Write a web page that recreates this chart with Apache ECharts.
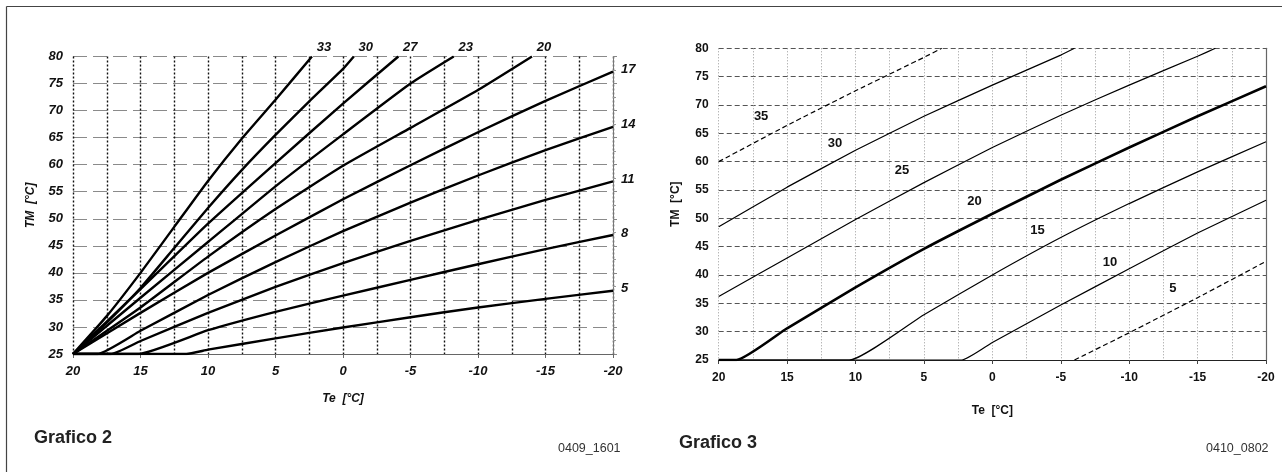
<!DOCTYPE html>
<html>
<head>
<meta charset="utf-8">
<script src="https://cdn.jsdelivr.net/npm/echarts@6/dist/echarts.min.js"></script>
<style>
  html, body { margin: 0; background: #fff; }
  #chart { width: 1282px; height: 472px; }
</style>
</head>
<body>
<div id="chart"></div>
<script>
// Grafico 2 : curve [Te, TM]
const g2c33 = [[20, 25], [17.5, 32], [15, 40], [12.5, 48.5], [10, 57], [7.5, 64.8], [5, 72], [2.3, 80]];
const g2c30 = [[20, 25], [17.5, 30.8], [15, 37.2], [12.5, 44.6], [10, 52], [7.5, 59], [5, 65.5], [2.5, 71.7], [0, 77.7], [-0.8, 80]];
const g2c27 = [[20, 25], [15, 37], [10, 49.1], [5, 60.3], [0, 71.3], [-4.1, 80]];
const g2c23 = [[20, 25], [15, 35.4], [10, 45.7], [5, 56], [0, 65.6], [-5, 75], [-8.2, 80]];
const g2c20 = [[20, 25], [15, 33.6], [10, 43], [5, 51.8], [0, 59.8], [-5, 66.8], [-10, 73.8], [-14, 80]];
const g2c17 = [[20, 25], [15, 32.6], [10, 40], [5, 46.9], [0, 53.6], [-5, 59.9], [-10, 66], [-15, 71.8], [-20, 77.2]];
const g2c14 = [[20, 25], [18.2, 25], [15, 29.3], [10, 35.9], [5, 42], [0, 47.7], [-5, 53], [-10, 58], [-15, 62.7], [-20, 67]];
const g2c11 = [[20, 25], [17.2, 25], [15, 27.4], [10, 32.6], [5, 37.4], [0, 41.8], [-5, 45.9], [-10, 49.8], [-15, 53.5], [-20, 56.9]];
const g2c8 = [[20, 25], [15.2, 25], [10, 29.4], [5, 32.8], [0, 35.8], [-5, 38.7], [-10, 41.6], [-15, 44.4], [-20, 47]];
const g2c5 = [[20, 25], [11.6, 25], [10, 25.8], [5, 27.9], [0, 29.9], [-5, 31.8], [-10, 33.6], [-15, 35.2], [-20, 36.7]];

// Grafico 3
const g3c35 = [[20, 60], [15, 66.4], [10, 72.5], [5, 78.4], [3.7, 80]];
const g3c30 = [[20, 48.5], [15, 55.5], [10, 62], [5, 68], [0, 73.5], [-5, 78.8], [-6, 80]];
const g3c25 = [[20, 36.2], [15, 43], [10, 49.8], [5, 56.3], [0, 62.5], [-5, 68.2], [-10, 73.5], [-15, 78.6], [-16.3, 80]];
const g3c20 = [[20, 25], [18.7, 25], [15, 30.6], [10, 37.8], [5, 44.6], [0, 50.8], [-5, 56.8], [-10, 62.5], [-15, 68], [-20, 73.3]];
const g3c15 = [[20, 25], [10.45, 25], [5, 33], [0, 40], [-5, 46.6], [-10, 52.6], [-15, 58.2], [-20, 63.5]];
const g3c10 = [[20, 25], [2.24, 25], [0, 28.1], [-5, 34.7], [-10, 41.1], [-15, 47.4], [-20, 53.2]];
const g3c5 = [[-6, 25], [-10, 29.8], [-15, 36], [-20, 42.4]];

const font = "'Liberation Sans', Arial, sans-serif";

const chart = echarts.init(document.getElementById("chart"));

// curve del grafico 2, etichetta in fondo (sopra o a destra)
function curve2(name, data, end) {
  return {
    name: name,
    type: "line",
    xAxisIndex: 0,
    yAxisIndex: 0,
    data: data,
    showSymbol: false,
    smooth: 0.15,
    silent: true,
    lineStyle: { color: "#000", width: 2.4 },
    endLabel: {
      show: true,
      formatter: name,
      distance: 0,
      fontFamily: font,
      fontStyle: "italic",
      fontWeight: "bold",
      fontSize: 13,
      color: "#111",
      align: end === "top" ? "center" : "left",
      verticalAlign: "middle",
      offset: end === "top" ? [12, -9] : [8, -2],
    },
  };
}

// curve del grafico 3, etichetta vicino alla curva
function curve3(name, data, labelAt, kind) {
  return {
    name: name,
    type: "line",
    xAxisIndex: 1,
    yAxisIndex: 2,
    data: data,
    showSymbol: false,
    smooth: 0.15,
    silent: true,
    lineStyle: {
      color: "#000",
      width: kind === "bold" ? 2.6 : 1.2,
      type: kind === "dash" ? [5, 3] : "solid",
    },
    markPoint: {
      silent: true,
      symbol: "circle",
      symbolSize: 1,
      itemStyle: { color: "rgba(0,0,0,0)" },
      label: {
        show: true,
        position: "inside",
        formatter: name,
        fontFamily: font,
        fontWeight: "bold",
        fontSize: 13,
        color: "#111",
      },
      data: [{ coord: labelAt }],
    },
  };
}

const lab2 = { fontFamily: font, fontStyle: "italic", fontWeight: "bold", fontSize: 13, color: "#111" };
const lab3 = { fontFamily: font, fontWeight: "bold", fontSize: 12, color: "#111" };

chart.setOption({
  animation: false,
  backgroundColor: "#fff",
  title: [
    { text: "Grafico 2", left: 34, top: 429, padding: 0, textStyle: { fontFamily: font, fontSize: 18, fontWeight: "bold", color: "#222" } },
    { text: "0409_1601", left: 558, top: 442, padding: 0, textStyle: { fontFamily: font, fontSize: 12.5, fontWeight: "normal", color: "#333" } },
    { text: "Grafico 3", left: 679, top: 434.5, padding: 0, textStyle: { fontFamily: font, fontSize: 18, fontWeight: "bold", color: "#222" } },
    { text: "0410_0802", left: 1206, top: 442.5, padding: 0, textStyle: { fontFamily: font, fontSize: 12.5, fontWeight: "normal", color: "#333" } },
  ],
  graphic: [
    { type: "line", shape: { x1: 6.5, y1: 6.5, x2: 1282, y2: 6.5 }, style: { stroke: "#444", lineWidth: 1.2 } },
    { type: "line", shape: { x1: 6.5, y1: 6.5, x2: 6.5, y2: 472 }, style: { stroke: "#444", lineWidth: 1.2 } },
  ],
  grid: [
    { left: 73, top: 56.5, width: 540, height: 297.5 },
    { left: 718.7, top: 48.3, width: 547.3, height: 311.7 },
  ],
  xAxis: [
    {
      gridIndex: 0,
      type: "value",
      min: -20,
      max: 20,
      interval: 5,
      inverse: true,
      name: "Te  [°C]",
      nameLocation: "middle",
      nameGap: 39,
      nameTextStyle: { fontFamily: font, fontStyle: "italic", fontWeight: "bold", fontSize: 12, color: "#111" },
      axisLine: { show: true, lineStyle: { color: "#666", width: 1 } },
      axisTick: { show: true, length: 4, lineStyle: { color: "#666" } },
      axisLabel: Object.assign({ margin: 11 }, lab2),
      splitLine: { show: true, lineStyle: { color: "#111", width: 1.4, type: [2, 2] } },
      minorTick: { show: false, splitNumber: 2 },
      minorSplitLine: { show: true, lineStyle: { color: "#111", width: 1.4, type: [2, 2] } },
    },
    {
      gridIndex: 1,
      type: "value",
      min: -20,
      max: 20,
      interval: 5,
      inverse: true,
      name: "Te  [°C]",
      nameLocation: "middle",
      nameGap: 45,
      nameTextStyle: { fontFamily: font, fontWeight: "bold", fontSize: 12, color: "#111" },
      axisLine: { show: true, lineStyle: { color: "#222", width: 1.2 } },
      axisTick: { show: true, length: 4, lineStyle: { color: "#444" } },
      axisLabel: Object.assign({ margin: 12 }, lab3),
      splitLine: { show: true, lineStyle: { color: "#999", width: 1, type: [1, 2] } },
      minorTick: { show: false, splitNumber: 2 },
      minorSplitLine: { show: true, lineStyle: { color: "#999", width: 1, type: [1, 2] } },
    },
  ],
  yAxis: [
    {
      gridIndex: 0,
      type: "value",
      min: 25,
      max: 80,
      interval: 5,
      name: "TM  [°C]",
      nameLocation: "middle",
      nameGap: 36,
      nameTextStyle: { fontFamily: font, fontStyle: "italic", fontWeight: "bold", fontSize: 12, color: "#111" },
      axisLine: { show: false },
      axisTick: { show: false },
      axisLabel: Object.assign({ margin: 10 }, lab2),
      splitLine: { show: true, lineStyle: { color: "#8a8a8a", width: 1, type: [14, 6] } },
    },
    {
      gridIndex: 0,
      type: "value",
      position: "right",
      min: 25,
      max: 80,
      interval: 5,
      axisLine: { show: true, lineStyle: { color: "#777", width: 1 } },
      axisTick: { show: true, length: 4, lineStyle: { color: "#888" } },
      minorTick: { show: true, splitNumber: 2, length: 3, lineStyle: { color: "#999" } },
      axisLabel: { show: false },
      splitLine: { show: false },
    },
    {
      gridIndex: 1,
      type: "value",
      min: 25,
      max: 80,
      interval: 5,
      name: "TM  [°C]",
      nameLocation: "middle",
      nameGap: 37,
      nameTextStyle: { fontFamily: font, fontWeight: "bold", fontSize: 12, color: "#111" },
      axisLine: { show: false },
      axisTick: { show: false },
      axisLabel: Object.assign({ margin: 10 }, lab3),
      splitLine: { show: true, lineStyle: { color: "#555", width: 1, type: [5, 3] } },
    },
    {
      gridIndex: 1,
      type: "value",
      position: "right",
      min: 25,
      max: 80,
      interval: 5,
      axisLine: { show: true, lineStyle: { color: "#666", width: 1.2 } },
      axisTick: { show: false },
      axisLabel: { show: false },
      splitLine: { show: false },
    },
  ],
  series: [
    curve2("33", g2c33, "top"),
    curve2("30", g2c30, "top"),
    curve2("27", g2c27, "top"),
    curve2("23", g2c23, "top"),
    curve2("20", g2c20, "top"),
    curve2("17", g2c17, "right"),
    curve2("14", g2c14, "right"),
    curve2("11", g2c11, "right"),
    curve2("8", g2c8, "right"),
    curve2("5", g2c5, "right"),
    curve3("35", g3c35, [16.9, 67.9], "dash"),
    curve3("30", g3c30, [11.5, 63.2], "thin"),
    curve3("25", g3c25, [6.6, 58.4], "thin"),
    curve3("20", g3c20, [1.3, 52.9], "bold"),
    curve3("15", g3c15, [-3.3, 47.9], "thin"),
    curve3("10", g3c10, [-8.6, 42.15], "thin"),
    curve3("5", g3c5, [-13.2, 37.65], "dash"),
  ],
});
</script>
</body>
</html>
